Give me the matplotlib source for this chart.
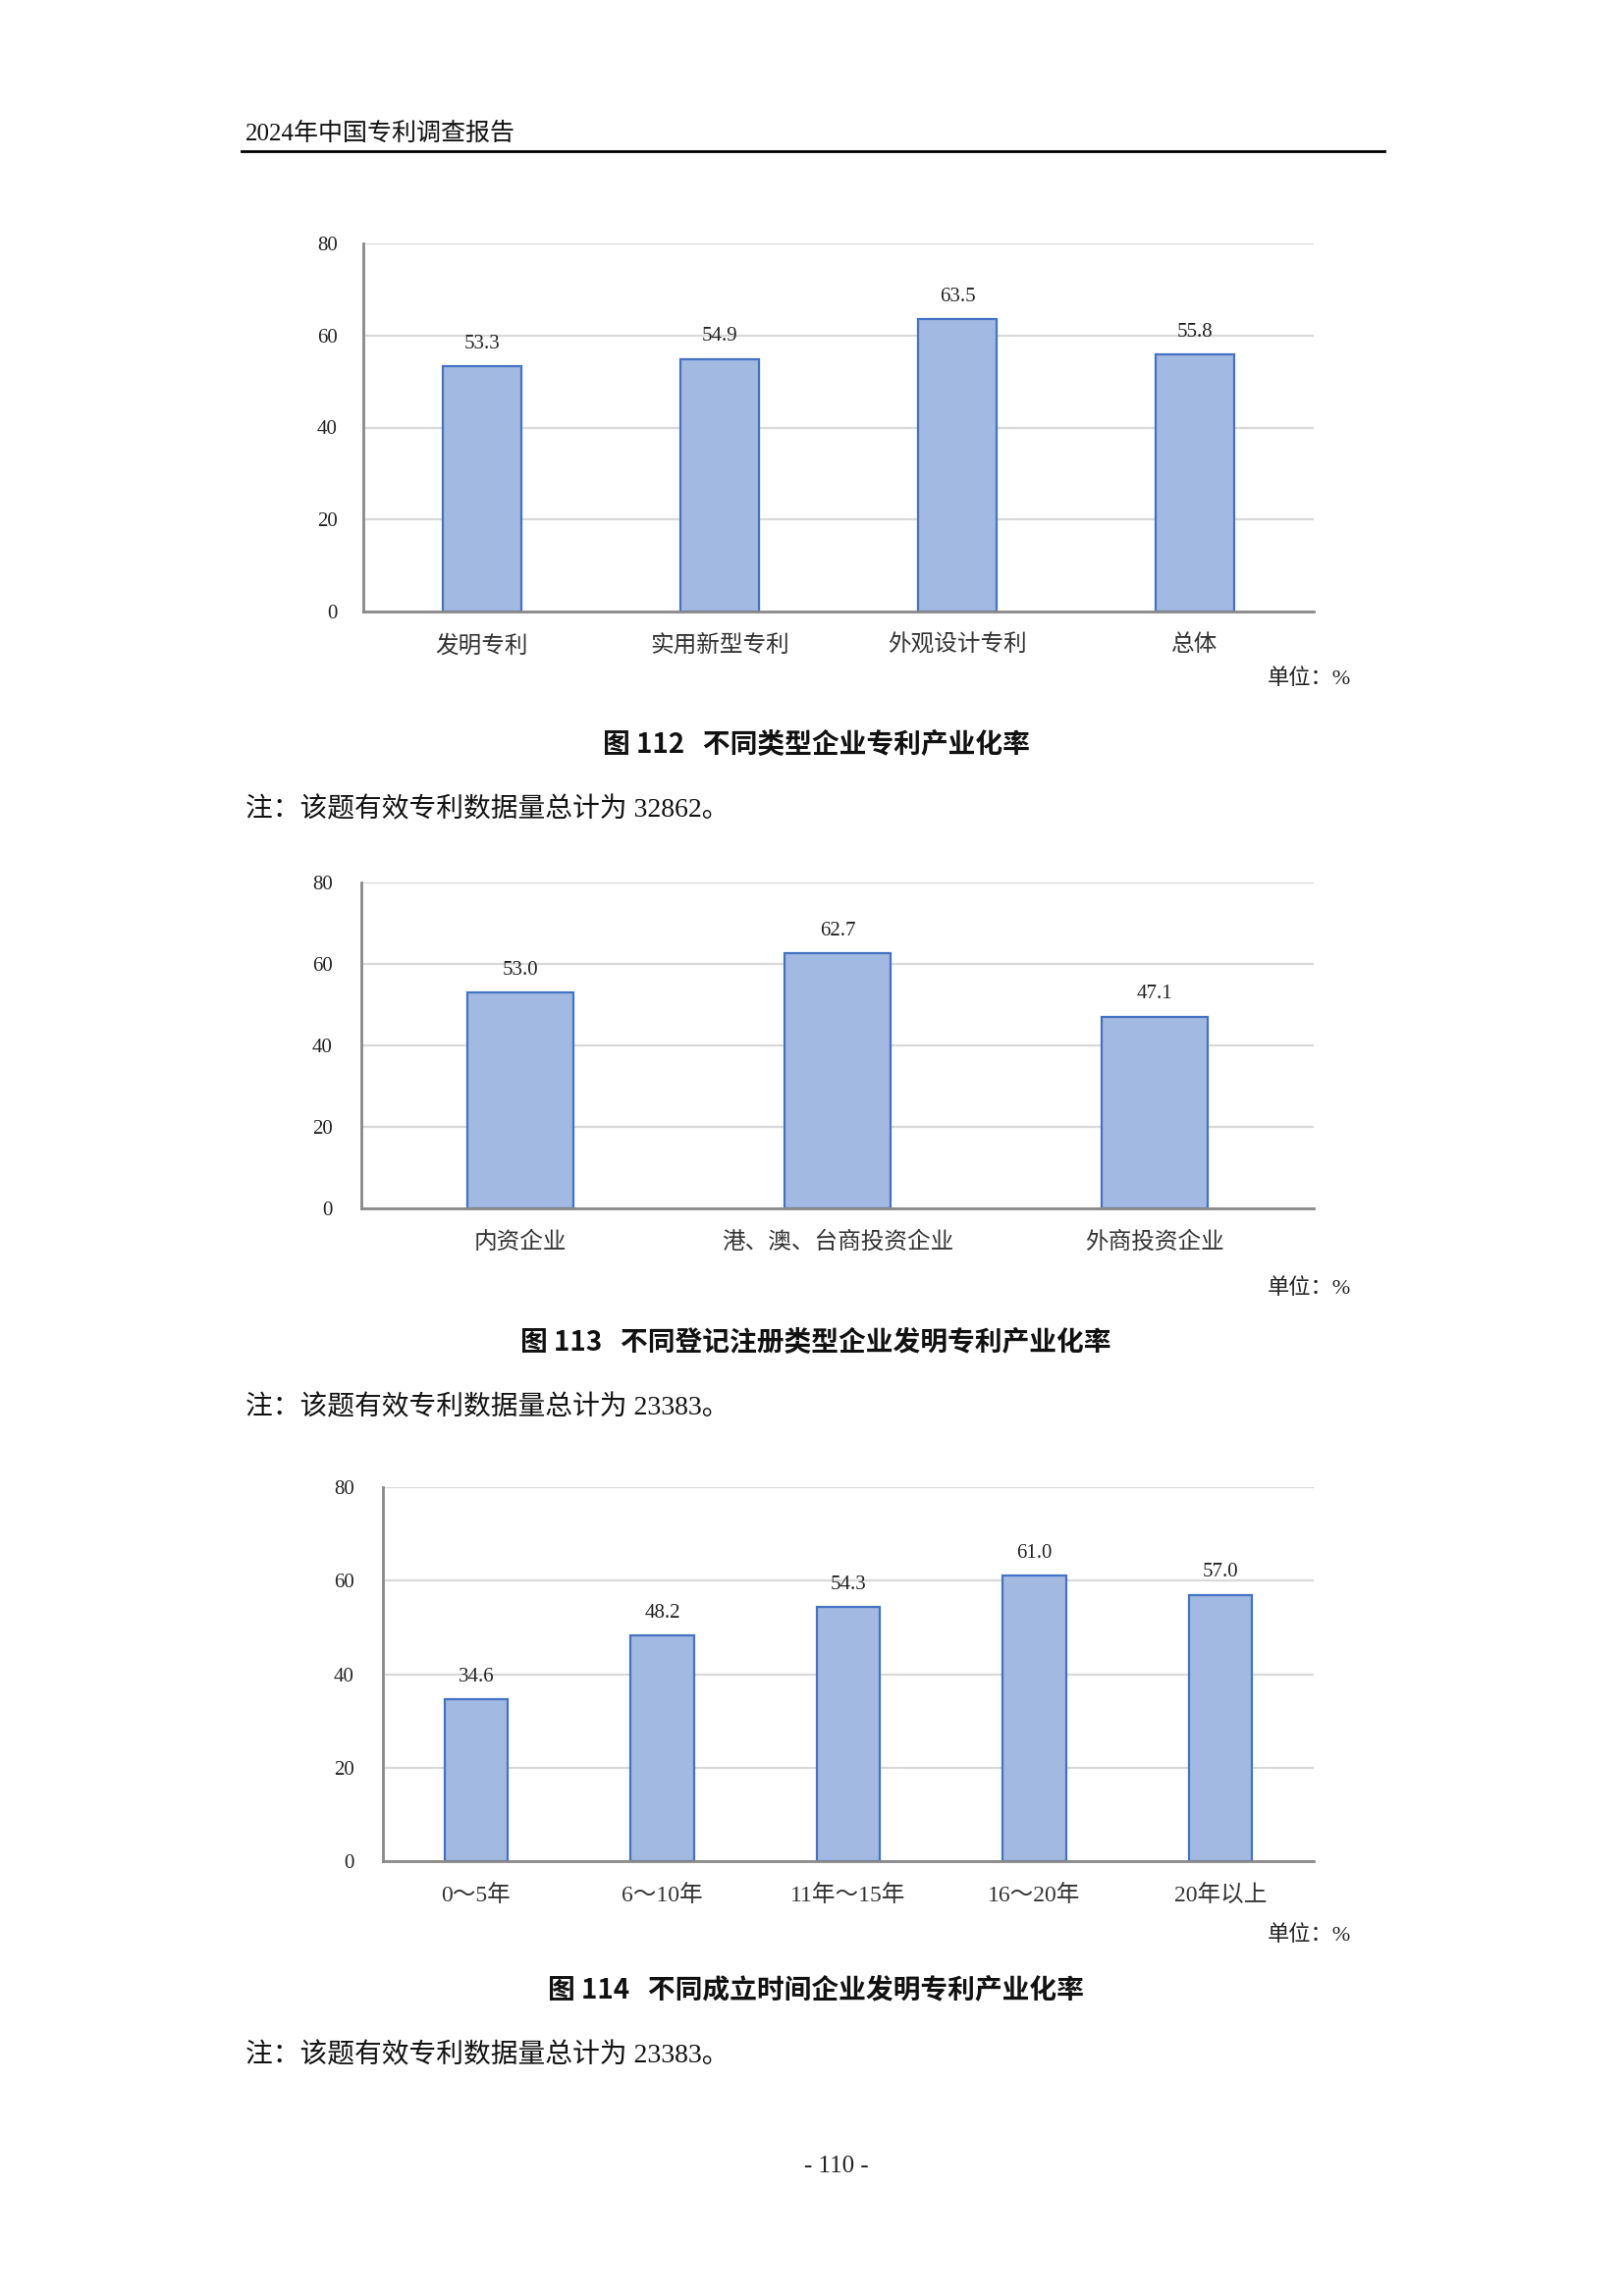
import matplotlib
matplotlib.use("Agg")
import matplotlib.pyplot as plt
from matplotlib.lines import Line2D

plt.rcParams['font.family'] = ['Liberation Serif', 'Noto Sans CJK SC', 'DejaVu Sans']

# ── data ────────────────────────────────────────────────────────────────────
cats_112 = ["发明专利", "实用新型专利", "外观设计专利", "总体"]
vals_112 = [53.3, 54.9, 63.5, 55.8]

cats_113 = ["内资企业", "港、澳、台商投资企业", "外商投资企业"]
vals_113 = [53.0, 62.7, 47.1]

cats_114 = ["0～5年", "6～10年", "11年～15年", "16～20年", "20年以上"]
vals_114 = [34.6, 48.2, 54.3, 61.0, 57.0]

y_ticks = [0, 20, 40, 60, 80]

header = "2024年中国专利调查报告"
captions = ["图 112   不同类型企业专利产业化率",
            "图 113   不同登记注册类型企业发明专利产业化率",
            "图 114   不同成立时间企业发明专利产业化率"]
notes = ["注：该题有效专利数据量总计为 32862。",
         "注：该题有效专利数据量总计为 23383。",
         "注：该题有效专利数据量总计为 23383。"]

# ── style ───────────────────────────────────────────────────────────────────
W, H = 1654, 2339
DPI = 200
BAR_FILL = "#A2B9E1"
BAR_EDGE = "#4472C4"
GRID = "#D9D9D9"
SPINE = "#898989"
SERIF = ['Liberation Serif', 'Noto Sans CJK SC']
SANS = ['Noto Sans CJK SC', 'DejaVu Sans']

fig = plt.figure(figsize=(W / DPI, H / DPI), dpi=DPI)
fig.patch.set_facecolor("white")


def px(x, y):
    return x / W, 1 - y / H


def bar_panel(box, cats, vals, width, ypad):
    l, t, r, b = box
    ax = fig.add_axes([l / W, 1 - b / H, (r - l) / W, (b - t) / H])
    xs = list(range(len(cats)))
    ax.bar(xs, vals, width=width, color=BAR_FILL, edgecolor=BAR_EDGE,
           linewidth=0.8, zorder=3)
    ax.set_xlim(-0.5, len(cats) - 0.5)
    ax.set_ylim(0, 80)
    ax.set_yticks(y_ticks)
    ax.set_yticklabels([str(v) for v in y_ticks], family=SERIF, fontsize=7.5)
    ax.set_xticks(xs)
    ax.set_xticklabels(cats, family=SERIF, fontsize=8.5, color="#333333")
    ax.tick_params(axis='y', length=0, pad=ypad, colors="#222222")
    ax.tick_params(axis='x', length=0, pad=8.5)
    ax.grid(axis='y', color=GRID, linewidth=0.8, zorder=0)
    for s in ("top", "right"):
        ax.spines[s].set_visible(False)
    for s in ("left", "bottom"):
        ax.spines[s].set_color(SPINE)
        ax.spines[s].set_linewidth(1.0)
        ax.spines[s].set_zorder(4)
    for x, v in zip(xs, vals):
        ax.annotate(f"{v:.1f}", (x, v), xytext=(0, 8.2), textcoords='offset points',
                    ha='center', va='center', fontsize=7.5, family=SERIF,
                    color="#222222")
    return ax


# ── header ──────────────────────────────────────────────────────────────────
fig.text(*px(250, 136), header, family=SERIF, fontsize=9, ha='left', va='center',
         color="#111111")
fig.add_artist(Line2D([246 / W, 1410 / W], [1 - 154 / H, 1 - 154 / H],
                      color="black", linewidth=1.0, transform=fig.transFigure))

# ── charts ──────────────────────────────────────────────────────────────────
bar_panel((370, 248, 1338, 623), cats_112, vals_112, 0.333, 9.4)
bar_panel((368, 899, 1338, 1231), cats_113, vals_113, 0.333, 10.5)
bar_panel((390, 1515, 1338, 1896), cats_114, vals_114, 0.34, 10.5)

# unit labels, captions, notes
unit_y = [692, 1313, 1972]
cap_y = [758, 1368, 2027]
note_y = [825, 1434, 2094]
for uy, cy, ny, cap, note in zip(unit_y, cap_y, note_y, captions, notes):
    fig.text(*px(1376, uy), "单位：%", family=SERIF, fontsize=8, ha='right',
             va='center', color="#222222")
    fig.text(*px(831, cy), cap, family=SANS, fontsize=10, fontweight='bold',
             ha='center', va='center', color="#111111")
    fig.text(*px(250, ny), note, family=SERIF, fontsize=10, ha='left',
             va='center', color="#111111")

# page number
fig.text(*px(852, 2207), "- 110 -", family=SERIF, fontsize=9, ha='center',
         va='center', color="#222222")

fig.savefig("out.png", dpi=DPI, facecolor="white")
plt.close(fig)
